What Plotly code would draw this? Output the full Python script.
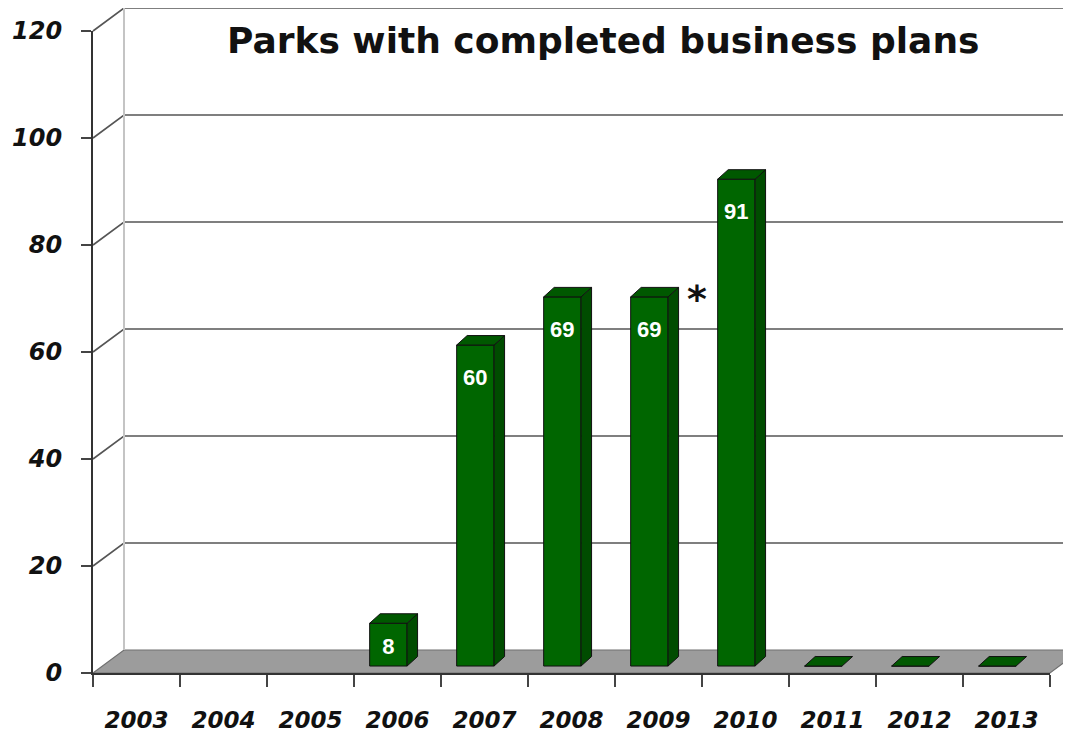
import plotly.graph_objects as go

# ---------------- data ----------------
years = ["2003", "2004", "2005", "2006", "2007", "2008", "2009", "2010", "2011", "2012", "2013"]
values = [None, None, None, 8, 60, 69, 69, 91, 0, 0, 0]
y_ticks = [0, 20, 40, 60, 80, 100, 120]
title_text = "Parks with completed business plans"
footnote_year = "2009"
footnote_mark = "*"

# ---------------- geometry / style ----------------
W, H = 1071, 732
OFF = 8                    # page body margin shifts the figure on screen
X0, X1 = 93 - OFF, 1050 - OFF   # front plane left/right (figure px)
Y0, YT = 673 - OFF, 31 - OFF    # front plane value 0 / value max (figure px)
n = len(years)
ymax = y_ticks[-1]
pxc = (X1 - X0) / n        # px per category
pxv = (Y0 - YT) / ymax     # px per value unit

xr = [-X0 / pxc, (W - X0) / pxc]
yr = [(Y0 - H) / pxv, Y0 / pxv]

dxw, dyw = 31 / pxc, 23 / pxv          # back wall depth
bl, br = 0.18, 0.61                    # bar front face left/right inside category
bbase = 1.3                            # bar base (depth shift)
ddx, ddy = 10.5 / pxc, 9.5 / pxv       # bar depth

front_col = "#006600"
side_col = "#004c00"
top_col = "#005800"
edge_col = "#111111"

fig = go.Figure()

# ---- back wall / floor on full-figure axes (x, y) ----
floor_x = [0, dxw, n + dxw, n, 0]
floor_y = [0, dyw, dyw, 0, 0]
fig.add_trace(go.Scatter(x=floor_x, y=floor_y, mode="lines", fill="toself",
                         fillcolor="#9c9c9c", line=dict(color="#707070", width=1.2),
                         hoverinfo="skip", showlegend=False, xaxis="x", yaxis="y"))

gx, gy = [], []
for t in y_ticks[1:]:
    gx += [0, dxw, xr[1], None]
    gy += [t, t + dyw, t + dyw, None]
fig.add_trace(go.Scatter(x=gx, y=gy, mode="lines", line=dict(color="#555555", width=1.6),
                         hoverinfo="skip", showlegend=False, xaxis="x", yaxis="y"))

fig.add_trace(go.Scatter(x=[dxw, dxw], y=[dyw, ymax + dyw], mode="lines",
                         line=dict(color="#c4c4c4", width=2),
                         hoverinfo="skip", showlegend=False, xaxis="x", yaxis="y"))

# ---- bars on front-plane axes (x2, y2) ----
centers = [i + (bl + br) / 2 for i in range(n)]
bx = [c for c, v in zip(centers, values) if v is not None]
bv = [v for v in values if v is not None]
fig.add_trace(go.Bar(x=bx, y=bv, base=[bbase] * len(bv), width=br - bl,
                     marker=dict(color=front_col, line=dict(color=edge_col, width=1)),
                     hoverinfo="skip", showlegend=False, xaxis="x2", yaxis="y2"))

sx, sy, tx, ty = [], [], [], []
for i, v in enumerate(values):
    if v is None:
        continue
    top = bbase + v
    if v > 0:
        sx += [i + br, i + br + ddx, i + br + ddx, i + br, i + br, None]
        sy += [bbase, bbase + ddy, top + ddy, top, bbase, None]
    tx += [i + bl, i + bl + ddx, i + br + ddx, i + br, i + bl, None]
    ty += [top, top + ddy, top + ddy, top, top, None]

fig.add_trace(go.Scatter(x=sx, y=sy, mode="lines", fill="toself", fillcolor=side_col,
                         line=dict(color=edge_col, width=1), hoverinfo="skip",
                         showlegend=False, xaxis="x2", yaxis="y2"))
fig.add_trace(go.Scatter(x=tx, y=ty, mode="lines", fill="toself", fillcolor=top_col,
                         line=dict(color=edge_col, width=1), hoverinfo="skip",
                         showlegend=False, xaxis="x2", yaxis="y2"))

# value labels
lx, ly, lt = [], [], []
for i, v in enumerate(values):
    if v:
        top = bbase + v
        lx.append(centers[i])
        ly.append(max(top - 6.5, top / 2))
        lt.append(str(v))
fig.add_trace(go.Scatter(x=lx, y=ly, text=lt, mode="text",
                         textfont=dict(family="Liberation Sans, Arial", size=22,
                                       color="white", weight="bold"),
                         hoverinfo="skip", showlegend=False, xaxis="x2", yaxis="y2",
                         cliponaxis=False))

# footnote marker beside the 2009 bar
fi = years.index(footnote_year)
fig.add_annotation(x=fi + 0.94, y=bbase + values[fi] - 0.3, xref="x2", yref="y2",
                   text=footnote_mark, showarrow=False,
                   font=dict(family="DejaVu Sans", size=38, color="#111111", weight="bold"))

# title
fig.add_annotation(x=(603 - OFF) / W, y=1 - (40 - OFF) / H, xref="paper", yref="paper",
                   text=title_text, showarrow=False, xanchor="center", yanchor="middle",
                   font=dict(family="DejaVu Sans", size=36, color="#111111", weight="bold"))

tickfont_y = dict(family="DejaVu Sans", size=24, color="#111111", weight="bold", style="italic")
tickfont_x = dict(family="DejaVu Sans", size=23, color="#111111", weight="bold", style="italic")

fig.update_layout(
    template="none",
    width=W, height=H,
    margin=dict(l=0, r=0, t=0, b=0, pad=0),
    paper_bgcolor="white", plot_bgcolor="rgba(0,0,0,0)",
    showlegend=False,
    xaxis=dict(domain=[0, 1], range=xr, visible=False, fixedrange=True, automargin=False),
    yaxis=dict(domain=[0, 1], range=yr, visible=False, fixedrange=True, automargin=False),
    xaxis2=dict(domain=[X0 / W, X1 / W], range=[0, n], anchor="y2", automargin=False,
                tickmode="array", tickvals=[i + 0.5 for i in range(n)], ticktext=years,
                ticks="", showline=True, linecolor="#333333", linewidth=2,
                showgrid=False, zeroline=False, tickfont=tickfont_x,
                ticklabelstandoff=25,
                minor=dict(tickmode="array", tickvals=list(range(n + 1)), ticks="outside",
                           ticklen=12, tickwidth=2, tickcolor="#444444", showgrid=False),
                fixedrange=True),
    yaxis2=dict(domain=[(H - Y0) / H, (H - YT) / H], range=[0, ymax], anchor="x2",
                automargin=False,
                tickmode="array", tickvals=y_ticks, ticks="outside", ticklen=10,
                tickwidth=2, tickcolor="#444444", showline=True, linecolor="#333333",
                linewidth=2, showgrid=False, zeroline=False, tickfont=tickfont_y,
                ticklabelstandoff=14, fixedrange=True),
)

fig.write_html("out.html")
